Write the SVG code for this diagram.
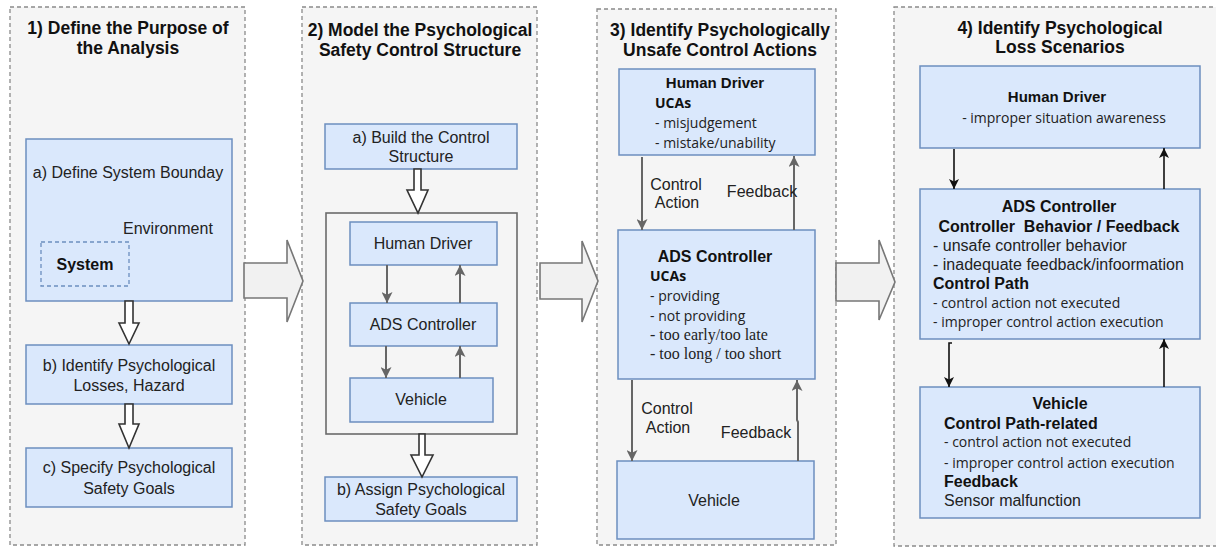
<svg xmlns="http://www.w3.org/2000/svg" width="1216" height="548" viewBox="0 0 1216 548">
<defs>
<style>
.panel{fill:#f5f5f5;stroke:#8a8a8a;stroke-width:1.3;stroke-dasharray:4 3}
.box{fill:#dae8fc;stroke:#6c8ebf;stroke-width:1.5}
.sys{fill:none;stroke:#6c8ebf;stroke-width:1.3;stroke-dasharray:4 3}
.outer{fill:none;stroke:#6b6b6b;stroke-width:1.6}
.big{fill:#f1f1f1;stroke:#777;stroke-width:1.6}
.hollow{fill:#fff;stroke:#333;stroke-width:1.6}
.title{font-family:"Liberation Sans",Arial,sans-serif;font-weight:bold;font-size:17.5px;fill:#111;text-anchor:middle}
.t{font-family:"Liberation Sans",Arial,sans-serif;font-size:16px;fill:#222}
.tb{font-family:"Liberation Sans",Arial,sans-serif;font-size:16px;font-weight:bold;fill:#111}
.hd{font-family:"Liberation Sans",Arial,sans-serif;font-size:15px;font-weight:bold;fill:#111}
.os{font-family:"Open Sans","Liberation Sans",sans-serif;font-size:14px;fill:#222}
.osb{font-family:"Open Sans","Liberation Sans",sans-serif;font-size:14px;font-weight:bold;fill:#111}
.sr{font-family:"Liberation Serif","Times New Roman",serif;font-size:16px;fill:#222}
.m{text-anchor:middle}
.g{fill:none;stroke:#666;stroke-width:2}
.k{fill:none;stroke:#111;stroke-width:1.6}
</style>
<marker id="ag" viewBox="0 0 10 10" refX="10" refY="5" markerWidth="11" markerHeight="11" markerUnits="userSpaceOnUse" orient="auto">
<path d="M0,0 L10,5 L0,10 L2.5,5 Z" fill="#666"/>
</marker>
<marker id="ak" viewBox="0 0 10 10" refX="10" refY="5" markerWidth="10" markerHeight="10" markerUnits="userSpaceOnUse" orient="auto">
<path d="M0,0 L10,5 L0,10 L2.5,5 Z" fill="#111"/>
</marker>
</defs>
<rect width="1216" height="548" fill="#ffffff"/>

<g id="panel1">
<rect class="panel" x="10" y="7" width="235" height="538"/>
<text class="title" x="128" y="34">1) Define the Purpose of</text>
<text class="title" x="128" y="54">the Analysis</text>
</g>
<g id="panel2">
<rect class="panel" x="302" y="7" width="235" height="538"/>
<text class="title" x="420" y="36">2) Model the Psychological</text>
<text class="title" x="420" y="56">Safety Control Structure</text>
</g>
<g id="panel3">
<rect class="panel" x="597" y="9" width="239" height="536"/>
<text class="title" x="720" y="36">3) Identify Psychologically</text>
<text class="title" x="720" y="56">Unsafe Control Actions</text>
</g>
<g id="panel4">
<rect class="panel" x="894" y="7" width="340" height="539"/>
<text class="title" x="1060" y="34">4) Identify Psychological</text>
<text class="title" x="1060" y="53">Loss Scenarios</text>
</g>

<g id="p1-boundary">
<rect class="box" x="26" y="139" width="206" height="162"/>
<text class="t m" x="128" y="178">a) Define System Bounday</text>
<text class="t" x="123" y="234">Environment</text>
<rect class="sys" x="41" y="242" width="88" height="44"/>
<text class="tb m" x="85" y="270">System</text>
</g>
<g id="p1-losses">
<rect class="box" x="26" y="345" width="206" height="59"/>
<text class="t m" x="129" y="371">b) Identify Psychological</text>
<text class="t m" x="129" y="391">Losses, Hazard</text>
</g>
<g id="p1-goals">
<rect class="box" x="26" y="448" width="206" height="59"/>
<text class="t m" x="129" y="473">c) Specify Psychological</text>
<text class="t m" x="129" y="494">Safety Goals</text>
</g>

<g id="p2-build">
<rect class="box" x="325" y="124" width="192" height="45"/>
<text class="t m" x="421" y="143">a) Build the Control</text>
<text class="t m" x="421" y="162">Structure</text>
</g>
<g id="p2-structure">
<rect class="outer" x="326" y="213" width="191" height="221"/>
</g>
<g id="p2-driver">
<rect class="box" x="350" y="222" width="147" height="43"/>
<text class="t m" x="423" y="249">Human Driver</text>
</g>
<g id="p2-ads">
<rect class="box" x="350" y="303" width="147" height="43"/>
<text class="t m" x="423" y="330">ADS Controller</text>
</g>
<g id="p2-vehicle">
<rect class="box" x="350" y="378" width="143" height="44"/>
<text class="t m" x="421" y="405">Vehicle</text>
</g>
<g id="p2-assign">
<rect class="box" x="325" y="477" width="192" height="44"/>
<text class="t m" x="421" y="495">b) Assign Psychological</text>
<text class="t m" x="421" y="515">Safety Goals</text>
</g>

<g id="p3-driver">
<rect class="box" x="619" y="69" width="196" height="86"/>
<text class="hd m" x="715" y="88">Human Driver</text>
<text class="osb" x="655" y="108">UCAs</text>
<text class="os" x="655" y="128">- misjudgement</text>
<text class="os" x="655" y="148">- mistake/unability</text>
</g>
<g id="p3-ads">
<rect class="box" x="618" y="230" width="197" height="149"/>
<text class="tb m" x="715" y="262">ADS Controller</text>
<text class="osb" x="650" y="281">UCAs</text>
<text class="os" x="650" y="301">- providing</text>
<text class="os" x="650" y="321">- not providing</text>
<text class="sr" x="650" y="340">- too early/too late</text>
<text class="sr" x="650" y="359">- too long / too short</text>
</g>
<g id="p3-vehicle">
<rect class="box" x="617" y="461" width="197" height="78"/>
<text class="t m" x="714" y="506">Vehicle</text>
</g>

<g id="p4-driver">
<rect class="box" x="920" y="66" width="280" height="82"/>
<text class="hd m" x="1057" y="102">Human Driver</text>
<text class="os m" x="1064" y="123">- improper situation awareness</text>
</g>
<g id="p4-ads">
<rect class="box" x="920" y="189" width="280" height="150"/>
<text class="tb m" x="1059" y="212">ADS Controller</text>
<text class="tb m" x="1059" y="232" style="white-space:pre">Controller  Behavior / Feedback</text>
<text class="t" x="933" y="251">- unsafe controller behavior</text>
<text class="t" x="933" y="270">- inadequate feedback/infoormation</text>
<text class="tb" x="933" y="289">Control Path</text>
<text class="os" x="933" y="308">- control action not executed</text>
<text class="os" x="933" y="327">- improper control action execution</text>
</g>
<g id="p4-vehicle">
<rect class="box" x="920" y="387" width="280" height="131"/>
<text class="tb m" x="1060" y="409">Vehicle</text>
<text class="tb" x="944" y="429">Control Path-related</text>
<text class="os" x="944" y="447">- control action not executed</text>
<text class="os" x="944" y="468">- improper control action execution</text>
<text class="tb" x="944" y="487">Feedback</text>
<text class="t" x="944" y="506">Sensor malfunction</text>
</g>

<g id="connectors">
<path class="big" d="M244,263 L287,263 L287,240 L303,281 L287,322 L287,298 L244,298 Z"/>
<path class="big" d="M540,263 L582,263 L582,241 L598,281 L582,322 L582,299 L540,299 Z"/>
<path class="big" d="M836,263 L879,263 L879,240 L895,282 L879,320 L879,301 L836,301 Z"/>
<path class="hollow" d="M125,301 L133,301 L133,323 L139,323 L129,344 L119,323 L125,323 Z"/>
<path class="hollow" d="M125,404 L133,404 L133,424 L139,424 L129,448 L119,424 L125,424 Z"/>
<path class="hollow" d="M414,169 L421,169 L421,190 L428,190 L418,213 L407,190 L414,190 Z"/>
<path class="hollow" d="M419,434 L425,434 L425,455 L433,455 L422,477 L411,455 L419,455 Z"/>
<line class="g" x1="387" y1="265" x2="387" y2="303" marker-end="url(#ag)"/>
<line class="g" x1="460" y1="303" x2="460" y2="265" marker-end="url(#ag)"/>
<line class="g" x1="386" y1="346" x2="386" y2="378" marker-end="url(#ag)"/>
<line class="g" x1="460" y1="378" x2="460" y2="346" marker-end="url(#ag)"/>
<line class="g" x1="642" y1="157" x2="642" y2="230" marker-end="url(#ag)"/>
<line class="g" x1="794" y1="230" x2="794" y2="156" marker-end="url(#ag)"/>
<line class="g" x1="632" y1="380" x2="632" y2="461" marker-end="url(#ag)"/>
<path class="g" d="M798,461 L798,422 L797,420 L797,380" marker-end="url(#ag)"/>
<line class="k" x1="954" y1="149" x2="954" y2="189" marker-end="url(#ak)"/>
<line class="k" x1="1164" y1="189" x2="1164" y2="148" marker-end="url(#ak)"/>
<path class="k" d="M952,343 L949,343 L949,387" marker-end="url(#ak)"/>
<line class="k" x1="1164" y1="387" x2="1164" y2="339" marker-end="url(#ak)"/>
<text class="t m" x="676" y="190">Control</text>
<text class="t m" x="677" y="208">Action</text>
<text class="t m" x="762" y="197">Feedback</text>
<text class="t m" x="667" y="414">Control</text>
<text class="t m" x="668" y="433">Action</text>
<text class="t m" x="756" y="438">Feedback</text>
</g>
</svg>
